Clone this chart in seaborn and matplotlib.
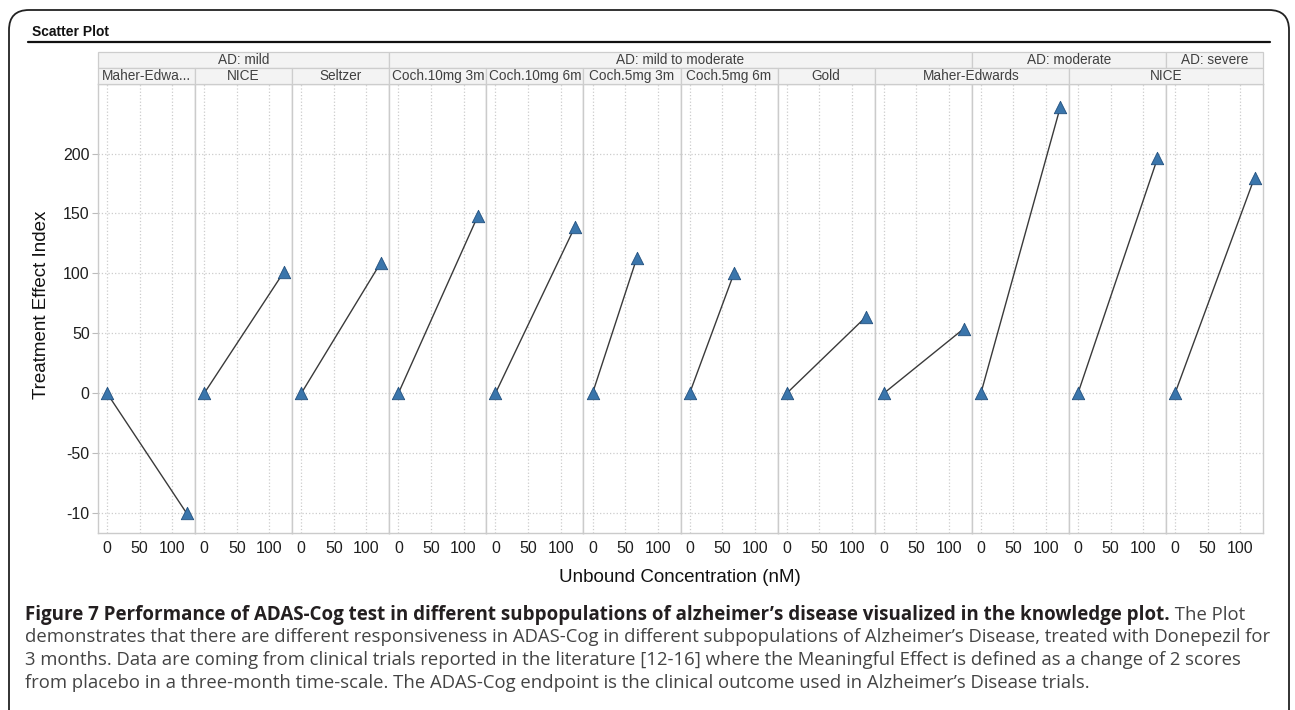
"""
Knowledge plot: ADAS-Cog treatment effect per AD subpopulation (trellis scatter)
"""

import pandas as pd
import matplotlib
matplotlib.use('Agg')
import matplotlib.pyplot as plt
from matplotlib.patches import Rectangle, FancyBboxPatch
from matplotlib.lines import Line2D
from matplotlib.transforms import IdentityTransform
import seaborn as sns

# panel data (one panel per severity / source combination)
severity = ['AD: mild', 'AD: mild', 'AD: mild',
            'AD: mild to moderate', 'AD: mild to moderate', 'AD: mild to moderate',
            'AD: mild to moderate', 'AD: mild to moderate', 'AD: mild to moderate',
            'AD: moderate', 'AD: moderate', 'AD: severe']
source = ['Maher-Edwards', 'NICE', 'Seltzer', 'Coch.10mg 3m', 'Coch.10mg 6m',
          'Coch.5mg 3m', 'Coch.5mg 6m', 'Gold', 'Maher-Edwards', 'Maher-Edwards',
          'NICE', 'NICE']
conc_start = [0, 0, 0, 0, 0, 0, 0, 0, 0, 0, 0, 0]
effect_start = [0, 0, 0, 0, 0, 0, 0, 0, 0, 0, 0, 0]
conc_end = [122, 122, 122, 122, 122, 68, 68, 122, 123, 122, 122, 122]
effect_end = [-100, 101, 109, 148, 139, 113, 100, 64, 54, 239, 196, 180]

x_ticks = [0, 50, 100]
y_ticks = [-100, -50, 0, 50, 100, 150, 200]
y_tick_labels = ['-10', '-50', '0', '50', '100', '150', '200']

caption_bold = ("Figure 7 Performance of ADAS-Cog test in different subpopulations "
                "of alzheimer\u2019s disease visualized in the knowledge plot.")
caption_first_rest = " The Plot"
caption_lines = [
    "demonstrates that there are different responsiveness in ADAS-Cog in different "
    "subpopulations of Alzheimer\u2019s Disease, treated with Donepezil for",
    "3 months. Data are coming from clinical trials reported in the literature [12-16] "
    "where the Meaningful Effect is defined as a change of 2 scores",
    "from placebo in a three-month time-scale. The ADAS-Cog endpoint is the clinical "
    "outcome used in Alzheimer\u2019s Disease trials.",
]

rows = []
for i in range(len(source)):
    rows.append({'panel': i, 'severity': severity[i], 'source': source[i],
                 'conc': conc_start[i], 'effect': effect_start[i]})
    rows.append({'panel': i, 'severity': severity[i], 'source': source[i],
                 'conc': conc_end[i], 'effect': effect_end[i]})
df = pd.DataFrame(rows)

sns.set_style("white")
plt.rcParams['font.family'] = ['Liberation Sans', 'DejaVu Sans']

W, H = 1295, 710


def fx(px):
    return px / W


def fy(py):
    return 1 - py / H


fig = plt.figure(figsize=(W / 100, H / 100), dpi=100)
axes = fig.subplots(1, len(source), sharey=True,
                    gridspec_kw=dict(wspace=0, left=fx(98), right=fx(1263),
                                     bottom=fy(533), top=fy(84)))

for i, ax in enumerate(axes):
    sub = df[df['panel'] == i]
    sns.lineplot(data=sub, x='conc', y='effect', ax=ax, color='#3a3a3a',
                 linewidth=1.0, sort=False, estimator=None, zorder=2)
    sns.scatterplot(data=sub, x='conc', y='effect', ax=ax, marker='^', s=80,
                    color='#3a75ab', edgecolor='#22507e', linewidth=0.6,
                    zorder=3, clip_on=False)
    ax.set_xlim(-14, 135)
    ax.set_ylim(-116.5, 258)
    ax.set_xticks(x_ticks)
    ax.set_xticklabels([str(t) for t in x_ticks])
    ax.set_xlabel('')
    ax.set_ylabel('')
    ax.grid(True, linestyle=':', color='#cccccc', linewidth=0.9)
    ax.set_axisbelow(True)
    for sp in ax.spines.values():
        sp.set_color('#cbcbcb')
        sp.set_linewidth(1.0)
    ax.tick_params(axis='x', length=0, pad=6, labelsize=11.5, labelcolor='#1e1e1e')
    ax.tick_params(axis='y', length=4, width=0.8, color='#bbbbbb', pad=2,
                   labelsize=11.5, labelcolor='#1e1e1e', left=(i == 0))

axes[0].set_yticks(y_ticks)
axes[0].set_yticklabels(y_tick_labels)

# trellis headers: merge consecutive equal labels
def groups(labels):
    out = []
    start = 0
    for k in range(1, len(labels) + 1):
        if k == len(labels) or labels[k] != labels[start]:
            out.append((start, k - 1, labels[start]))
            start = k
    return out


def draw_header(labels, top_px, bot_px):
    for a, b, lab in groups(labels):
        x0 = axes[a].get_position().x0
        x1 = axes[b].get_position().x1
        fig.add_artist(Rectangle((x0, fy(bot_px)), x1 - x0, fy(top_px) - fy(bot_px),
                                 transform=fig.transFigure, facecolor='#f3f3f3',
                                 edgecolor='#cdcdcd', linewidth=0.9))
        text = lab
        if a == b and len(lab) > 12:
            text = lab[:10] + '...'
        fig.text((x0 + x1) / 2, fy((top_px + bot_px) / 2), text, ha='center',
                 va='center', fontsize=9.8, color='#404040')


draw_header(severity, 52, 68)
draw_header(source, 68, 84)

# axis titles
fig.text(fx(42), fy(305), 'Treatment Effect Index', rotation=90, ha='center',
         va='center', fontsize=13.5, color='#111111')
fig.text(fx(680), fy(578), 'Unbound Concentration (nM)', ha='center',
         va='center', fontsize=13.5, color='#111111')

# panel title and frame
fig.text(fx(32), fy(32), 'Scatter Plot', ha='left', va='center', fontsize=10,
         fontweight='bold', color='#111111')
fig.add_artist(Line2D([fx(28), fx(1270)], [fy(42), fy(42)], transform=fig.transFigure,
                      color='#111111', linewidth=1.6))
fig.add_artist(FancyBboxPatch((9, -30), 1280, 730, transform=IdentityTransform(),
                              boxstyle='round,pad=0,rounding_size=20', fill=False,
                              edgecolor='#222222', linewidth=1.3))

# caption
cap_font = ['Open Sans', 'DejaVu Sans']
t_bold = fig.text(fx(25), fy(615), caption_bold, ha='left', va='center',
                  fontsize=13.5, fontweight='bold', family=cap_font, color='#231f20')
fig.canvas.draw()
bb = t_bold.get_window_extent(renderer=fig.canvas.get_renderer())
fig.text(bb.x1 / W, fy(615), caption_first_rest, ha='left', va='center',
         fontsize=13.35, family=cap_font, color='#444444')
for k, line in enumerate(caption_lines):
    fig.text(fx(25), fy(637.5 + 22.5 * k), line, ha='left', va='center',
             fontsize=13.35, family=cap_font, color='#444444')

plt.savefig('out.png', dpi=100)
plt.close()
